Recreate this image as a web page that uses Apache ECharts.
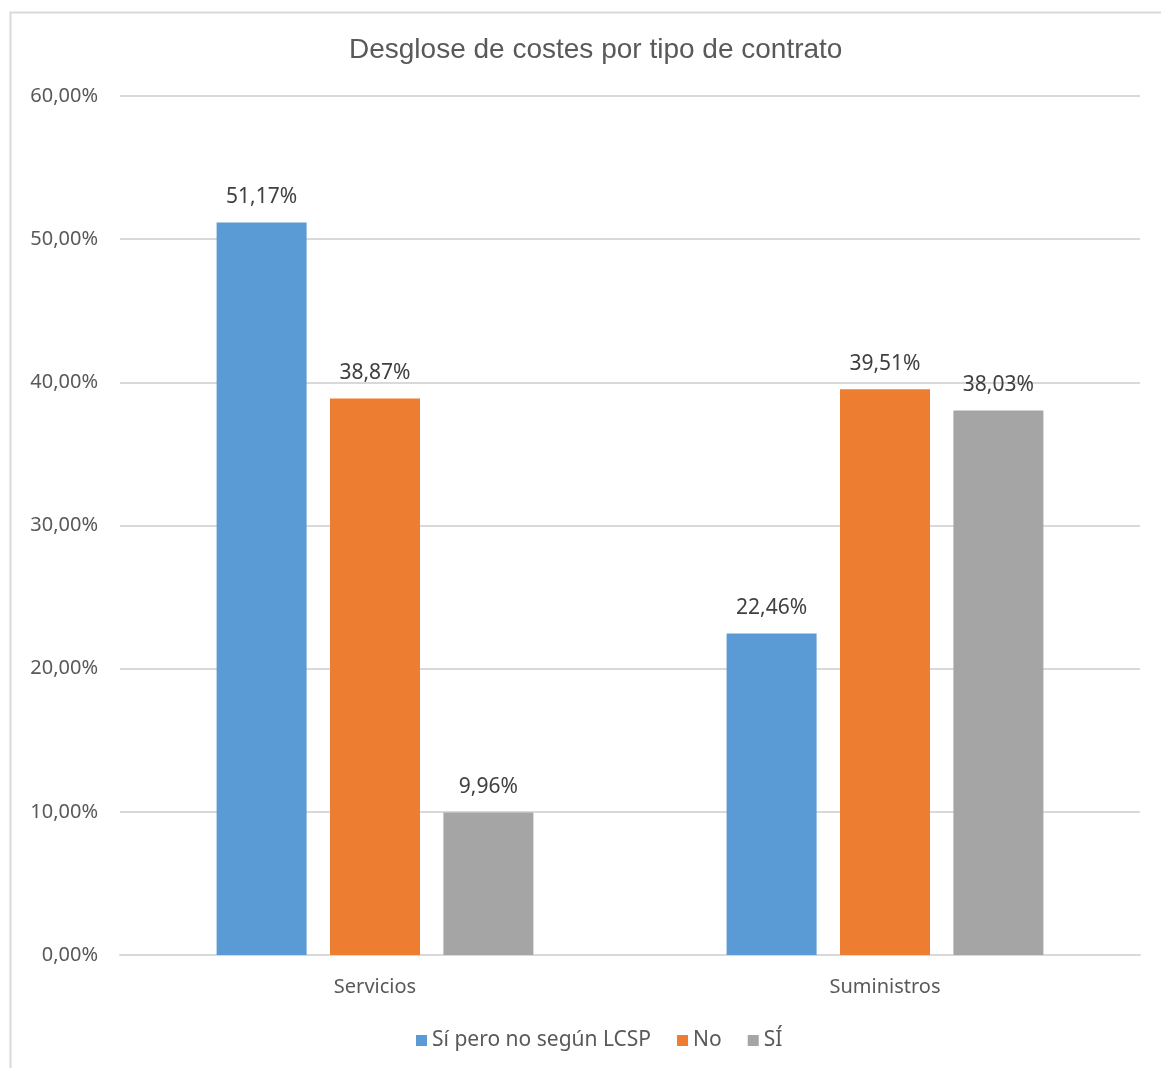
<!DOCTYPE html>
<html>
<head>
<meta charset="utf-8">
<script src="https://cdn.jsdelivr.net/npm/echarts@6/dist/echarts.min.js"></script>
<style>
  html, body { margin: 0; padding: 0; background: #fff; }
  #chart { width: 1161px; height: 1068px; }
</style>
</head>
<body>
<div id="chart"></div>
<script>
// Cost breakdown by contract type (percentages)
const categories = ['Servicios', 'Suministros'];
const seriesNames = ['Sí pero no según LCSP', 'No', 'SÍ'];
const siPeroNo = [51.17, 22.46];
const no = [38.87, 39.51];
const si = [9.96, 38.03];
const colors = ['#5B9BD5', '#ED7D31', '#A5A5A5'];

const fmt = v => v.toFixed(2).replace('.', ',') + '%';
const textFont = '"Noto Sans", "Open Sans", sans-serif';

function barSeries(name, values, color) {
  return {
    name: name,
    type: 'bar',
    data: values,
    barWidth: 90,
    barGap: '26%',
    itemStyle: { color: color },
    label: {
      show: true,
      position: 'top',
      distance: 15,
      color: '#404040',
      fontSize: 21,
      fontFamily: textFont,
      formatter: p => fmt(p.value)
    }
  };
}

const chart = echarts.init(document.getElementById('chart'));
chart.setOption({
  animation: false,
  backgroundColor: '#fff',
  graphic: [{
    type: 'rect',
    left: 8, top: 10,
    shape: { width: 1300, height: 1200 },
    style: { fill: 'none', stroke: '#D9D9D9', lineWidth: 2 },
    silent: true
  }],
  title: {
    text: 'Desglose de costes por tipo de contrato',
    left: 344,
    top: 31,
    textStyle: {
      color: '#595959',
      fontSize: 28,
      fontWeight: 'normal',
      fontFamily: '"Liberation Sans", Arial, sans-serif'
    }
  },
  legend: {
    bottom: 12,
    left: 411,
    itemWidth: 11,
    itemHeight: 11,
    itemGap: 26,
    itemTextGap: 6,
    icon: 'rect',
    textStyle: { color: '#595959', fontSize: 21, fontFamily: textFont },
    data: seriesNames
  },
  grid: { left: 120, right: 21, top: 96, bottom: 113 },
  xAxis: {
    type: 'category',
    data: categories,
    axisLine: { lineStyle: { color: '#D9D9D9', width: 2 } },
    axisTick: { show: false },
    axisLabel: { color: '#595959', fontSize: 20, fontFamily: textFont, margin: 22 }
  },
  yAxis: {
    type: 'value',
    min: 0,
    max: 60,
    interval: 10,
    axisLine: { show: false },
    axisTick: { show: false },
    splitLine: { lineStyle: { color: '#D9D9D9', width: 2 } },
    axisLabel: {
      color: '#595959',
      fontSize: 20,
      fontFamily: textFont,
      margin: 22,
      formatter: v => fmt(v)
    }
  },
  series: [
    barSeries(seriesNames[0], siPeroNo, colors[0]),
    barSeries(seriesNames[1], no, colors[1]),
    barSeries(seriesNames[2], si, colors[2])
  ]
});
</script>
</body>
</html>
